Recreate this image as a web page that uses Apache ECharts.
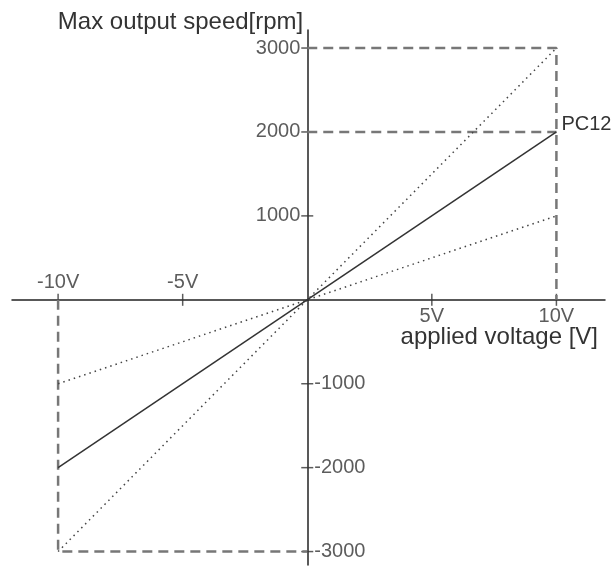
<!DOCTYPE html>
<html>
<head>
<meta charset="utf-8">
<script src="https://cdn.jsdelivr.net/npm/echarts@6/dist/echarts.min.js"></script>
<style>
  html, body { margin: 0; padding: 0; background: #fff; }
  #chart { width: 614px; height: 569px; }
</style>
</head>
<body>
<div id="chart"></div>
<script>
// values
const voltage = [-10, 10];
const pc12Speed = [-2000, 2000];
const highSpeed = [-3000, 3000];
const lowSpeed = [-1000, 1000];

const xTicks = [-10, -5, 5, 10];
const yTicks = [-3000, -2000, -1000, 1000, 2000, 3000];

// dashed guide lines (voltage, speed)
const guideTop = [[0, 3000], [10, 3000], [10, 0]];
const guideMid = [[0, 2000], [10, 2000]];
const guideBottom = [[-10, 0], [-10, -3000], [0, -3000]];

const FONT = 'Liberation Sans, Arial, sans-serif';
const TEXT = '#333';

const chart = echarts.init(document.getElementById('chart'));

function pairs(xs, ys) {
    return xs.map((x, i) => [x, ys[i]]);
}

function dashed(data) {
    return {
        type: 'line', data: data, symbol: 'none', silent: true,
        lineStyle: { color: '#777', width: 2.5, type: [10, 6] }
    };
}

function dotted(data) {
    return {
        type: 'line', data: data, symbol: 'none', silent: true,
        lineStyle: { color: '#444', width: 1.5, type: [1.5, 4] }
    };
}

let option = {
    animation: false,
    backgroundColor: '#fff',
    grid: { left: 12, right: 9, top: 30, bottom: 4 },
    xAxis: {
        type: 'value', min: -11.85, max: 11.95,
        axisLine: { onZero: true, lineStyle: { color: '#222', width: 1.5 } },
        axisTick: { show: false },
        axisLabel: { show: false },
        splitLine: { show: false },
        name: 'applied voltage [V]',
        nameLocation: 'end',
        nameGap: -7,
        nameTextStyle: {
            fontFamily: FONT, fontSize: 24, color: TEXT,
            align: 'right', verticalAlign: 'top', padding: [26, 0, 0, 0]
        }
    },
    yAxis: {
        type: 'value', min: -3160, max: 3215,
        axisLine: { onZero: true, lineStyle: { color: '#222', width: 1.5 } },
        axisTick: { show: false },
        axisLabel: { show: false },
        splitLine: { show: false },
        name: 'Max output speed[rpm]',
        nameLocation: 'end',
        nameGap: -4,
        nameTextStyle: {
            fontFamily: FONT, fontSize: 24, color: TEXT,
            align: 'right', verticalAlign: 'bottom', padding: [0, 4, 0, 0]
        }
    },
    series: [
        dashed(guideTop),
        dashed(guideMid),
        dashed(guideBottom),
        dotted(pairs(voltage, highSpeed)),
        dotted(pairs(voltage, lowSpeed)),
        {
            type: 'line', data: pairs(voltage, pc12Speed), silent: true,
            symbol: 'none',
            lineStyle: { color: '#333', width: 1.5 },
            markPoint: {
                symbol: 'circle', symbolSize: 0,
                data: [{ coord: [voltage[1], pc12Speed[1]], value: 'PC12' }],
                label: {
                    show: true, position: 'right', distance: 5, offset: [0, -7],
                    formatter: 'PC12', fontFamily: FONT, fontSize: 20, color: TEXT
                }
            }
        },
        {
            // x ticks + labels
            type: 'scatter', silent: true,
            symbol: 'rect', symbolSize: [1.5, 12],
            itemStyle: { color: '#333' },
            data: xTicks.map(v => ({
                value: [v, 0],
                label: { position: v < 0 ? 'top' : 'bottom' }
            })),
            label: {
                show: true, distance: 1,
                formatter: p => p.value[0] + 'V',
                fontFamily: FONT, fontSize: 20, color: TEXT
            }
        },
        {
            // y ticks + labels
            type: 'scatter', silent: true,
            symbol: 'rect', symbolSize: [12, 1.5],
            itemStyle: { color: '#333' },
            data: yTicks.map(v => ({
                value: [0, v],
                label: { position: v > 0 ? 'left' : 'right' }
            })),
            label: {
                show: true, distance: 1,
                formatter: p => String(p.value[1]),
                fontFamily: FONT, fontSize: 20, color: TEXT
            }
        }
    ]
};

chart.setOption(option);
</script>
</body>
</html>
